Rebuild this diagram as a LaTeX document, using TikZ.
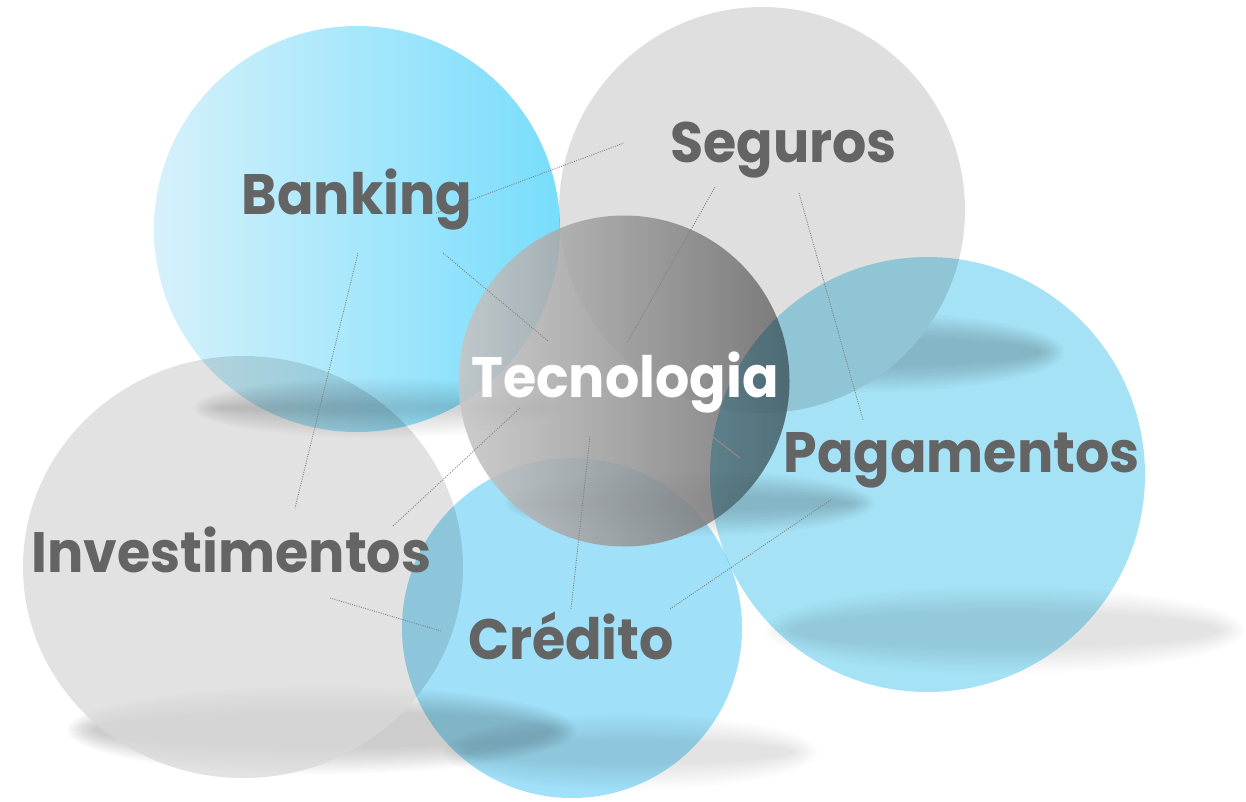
\documentclass[tikz,border=0pt]{standalone}
\usepackage{fontspec}
\setmainfont{Poppins}
\newfontfamily\lblfont{Poppins}[FakeStretch=0.945]
\usetikzlibrary{shapes.geometric}
\definecolor{labelgray}{RGB}{100,100,100}
\definecolor{segurosgray}{RGB}{223,223,223}
\definecolor{investgray}{RGB}{216,216,216}
\definecolor{pagblue}{RGB}{150,221,244}
\definecolor{credblue}{RGB}{160,224,248}
\definecolor{bankleft}{RGB}{214,241,251}
\definecolor{bankright}{RGB}{120,221,252}
\definecolor{tecleft}{RGB}{198,198,198}
\definecolor{tecright}{RGB}{108,108,108}
\definecolor{dotgray}{RGB}{130,130,130}
\definecolor{faintline}{RGB}{150,142,138}
\newcommand\softshadow[4]{%
  \foreach \k in {0,...,13} {%
    \fill[black, fill opacity=#4] (#1) ellipse [x radius={(#2-2*\k)*1pt}, y radius={(#3-2*\k)*1pt}];
  }}
\tikzset{
  disc/.style={circle, inner sep=0pt, draw=none, minimum size=#1},
  lbl/.style={font=\lblfont\fontsize{57}{60}\selectfont\bfseries, text=labelgray, inner sep=0pt, anchor=base},
  dotline/.style={draw=dotgray, line width=0.9pt, dash pattern=on 1pt off 1.3pt},
}
\begin{document}
\begin{tikzpicture}[x=1pt,y=-1pt]
\useasboundingbox (0,0) rectangle (1246,801);
% Investimentos shadow and disc
\softshadow{322,730}{255}{44}{0.0141}
\node[ellipse, inner sep=0pt, minimum width=440pt, minimum height=422pt, fill=investgray, opacity=0.75] (invest) at (243,567) {};
% Seguros shadow and disc
\softshadow{865,352}{200}{40}{0.0176}
\node[disc=406pt, fill=segurosgray] (seguros) at (762,210) {};
% other shadows
\softshadow{1005,630}{240}{44}{0.0091}
\softshadow{690,503}{185}{33}{0.0158}
\softshadow{630,752}{188}{38}{0.0075}
\softshadow{378,408}{185}{30}{0.0115}
% circles
\begin{scope}[blend mode=multiply]
\node[disc=406pt, left color=bankleft, right color=bankright] (banking) at (357,229) {};
\node[disc=340pt, fill=credblue] (credito) at (572,628) {};
\end{scope}
\node[disc=331pt, left color=tecleft, right color=tecright, opacity=0.88] (tecno) at (624,381) {};
\begin{scope}[blend mode=multiply]
\node[disc=435pt, fill=pagblue, opacity=0.85] (pagam) at (927.5,474.5) {};
\end{scope}
% connector end points
\coordinate (a1) at (436,213); \coordinate (b1) at (624,143);
\coordinate (a2) at (715,187); \coordinate (b2) at (627,343);
\coordinate (a3) at (799,193); \coordinate (b3) at (863,420);
\coordinate (a4) at (443,253); \coordinate (b4) at (548,341);
\coordinate (a5) at (358,253); \coordinate (b5) at (295,508);
\coordinate (a6) at (393,526); \coordinate (b6) at (521,407);
\coordinate (a7) at (330,598); \coordinate (b7) at (441,631);
\coordinate (a8) at (571,609); \coordinate (b8) at (590,436);
\coordinate (a9) at (670,609); \coordinate (b9) at (832,499);
\coordinate (a10) at (713,437); \coordinate (b10) at (740,458);
\draw[dotline] (a1) -- (b1);
\draw[dotline] (a2) -- (b2);
\draw[dotline] (a3) -- (b3);
\draw[dotline] (a4) -- (b4);
\draw[dotline] (a5) -- (b5);
\draw[dotline] (a6) -- (b6);
\draw[dotline] (a7) -- (b7);
\draw[dotline] (a8) -- (b8);
\draw[dotline] (a9) -- (b9);
\draw[draw=faintline, line width=0.9pt] (a10) -- (b10);
% labels
\node[lbl] (tseguros) at (783.5,162) {Seguros};
\node[lbl] (tbanking) at (357,214) {Banking};
\node[lbl, text=white] (ttecno) at (625,397) {Tecnologia};
\node[lbl] (tpagam) at (961.5,472) {Pagamentos};
\node[lbl] (tinvest) at (231.5,572) {Investimentos};
\node[lbl] (tcredito) at (571,659) {Crédito};
\end{tikzpicture}
\end{document}
